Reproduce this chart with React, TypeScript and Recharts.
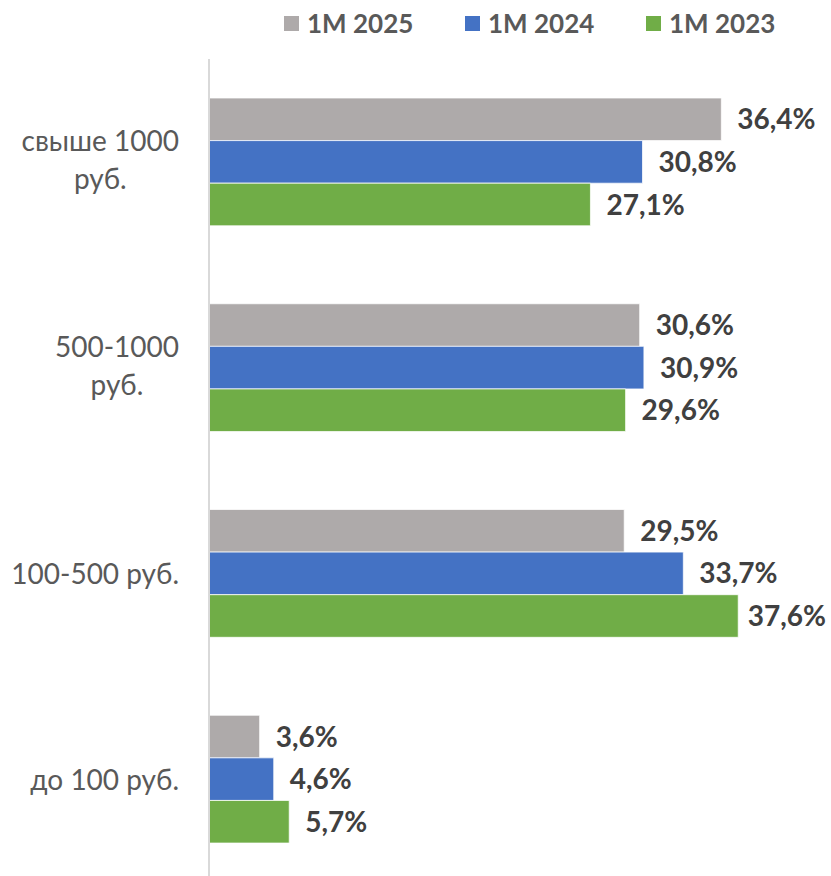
import { BarChart, Bar, XAxis, YAxis, Legend, LabelList } from "recharts";

const categories = ["свыше 1000\nруб.", "500-1000\nруб.", "100-500 руб.", "до 100 руб."];
const seriesNames = ["1M 2025", "1M 2024", "1M 2023"];
const values2025 = [36.4, 30.6, 29.5, 3.6];
const values2024 = [30.8, 30.9, 33.7, 4.6];
const values2023 = [27.1, 29.6, 37.6, 5.7];

const colors = ["#AEAAAA", "#4472C4", "#70AD47"];
const FONT = "Lato, 'Open Sans', sans-serif";

const data = categories.map((name, i) => ({
  name,
  s2025: values2025[i],
  s2024: values2024[i],
  s2023: values2023[i],
}));

let ctx: CanvasRenderingContext2D | null = null;
const measure = (text: string, font: string) => {
  if (!ctx) ctx = document.createElement("canvas").getContext("2d");
  if (!ctx) return text.length * 13;
  ctx.font = font;
  return ctx.measureText(text).width;
};

const CategoryTick = (props: any) => {
  const { x, y, payload } = props;
  const lines: string[] = String(payload.value).split("\n");
  const font = `28px ${FONT}`;
  const w = Math.max(...lines.map((l) => measure(l, font)));
  const cx = x - w / 2;
  const baselines = lines.length === 1 ? [y + 11] : [y - 11, y + 27];
  return (
    <g>
      {lines.map((l, i) => (
        <text key={i} x={cx} y={baselines[i]} textAnchor="middle" fill="#595959" fontSize={28} fontFamily={FONT}>
          {l}
        </text>
      ))}
    </g>
  );
};

const LegendContent = () => (
  <div style={{ display: "flex", paddingLeft: 284, fontFamily: FONT }}>
    {seriesNames.map((n, i) => (
      <div key={n} style={{ width: 181, display: "flex", alignItems: "center" }}>
        <div style={{ width: 15, height: 15, background: colors[i], marginRight: 8 }} />
        <span style={{ fontSize: 26, fontWeight: 700, color: "#595959", lineHeight: "30px" }}>{n}</span>
      </div>
    ))}
  </div>
);

const fmt = (v: any) => `${String(v).replace(".", ",")}%`;

// value label to the right of the bar, pulled back inside the chart if it would overflow
const ValueLabel = (props: any) => {
  const { x, y, width, height, value } = props;
  const text = fmt(value);
  const font = `bold 28px ${FONT}`;
  const tw = measure(text, font);
  let lx = x + width + 16;
  if (lx + tw > 826) lx = 826 - tw;
  return (
    <text x={lx} y={y + height / 2 + 10} fill="#404040" fontSize={28} fontWeight={700} fontFamily={FONT}>
      {text}
    </text>
  );
};

export default function App() {
  return (
    <div style={{ position: "absolute", left: 0, top: 0, width: 831, height: 876, overflow: "hidden", background: "#fff" }}>
      <BarChart
        width={831}
        height={890}
        data={data}
        layout="vertical"
        margin={{ top: 19, right: 59, bottom: 8, left: 0 }}
        barGap={0}
        barSize={42.6}
      >
        <XAxis type="number" domain={[0, 40]} hide />
        <YAxis
          type="category"
          dataKey="name"
          width={209}
          axisLine={{ stroke: "#D9D9D9", strokeWidth: 2 }}
          tickLine={false}
          tickSize={0}
          tickMargin={30}
          tick={<CategoryTick />}
          interval={0}
        />
        <Legend verticalAlign="top" align="left" height={40} wrapperStyle={{ top: 8, left: 0, width: 831 }} content={<LegendContent />} />
        {(["s2025", "s2024", "s2023"] as const).map((k, i) => (
          <Bar key={k} dataKey={k} name={seriesNames[i]} fill={colors[i]} stroke="#ffffff" strokeWidth={0.75} isAnimationActive={false}>
            <LabelList dataKey={k} content={<ValueLabel />} />
          </Bar>
        ))}
      </BarChart>
    </div>
  );
}
